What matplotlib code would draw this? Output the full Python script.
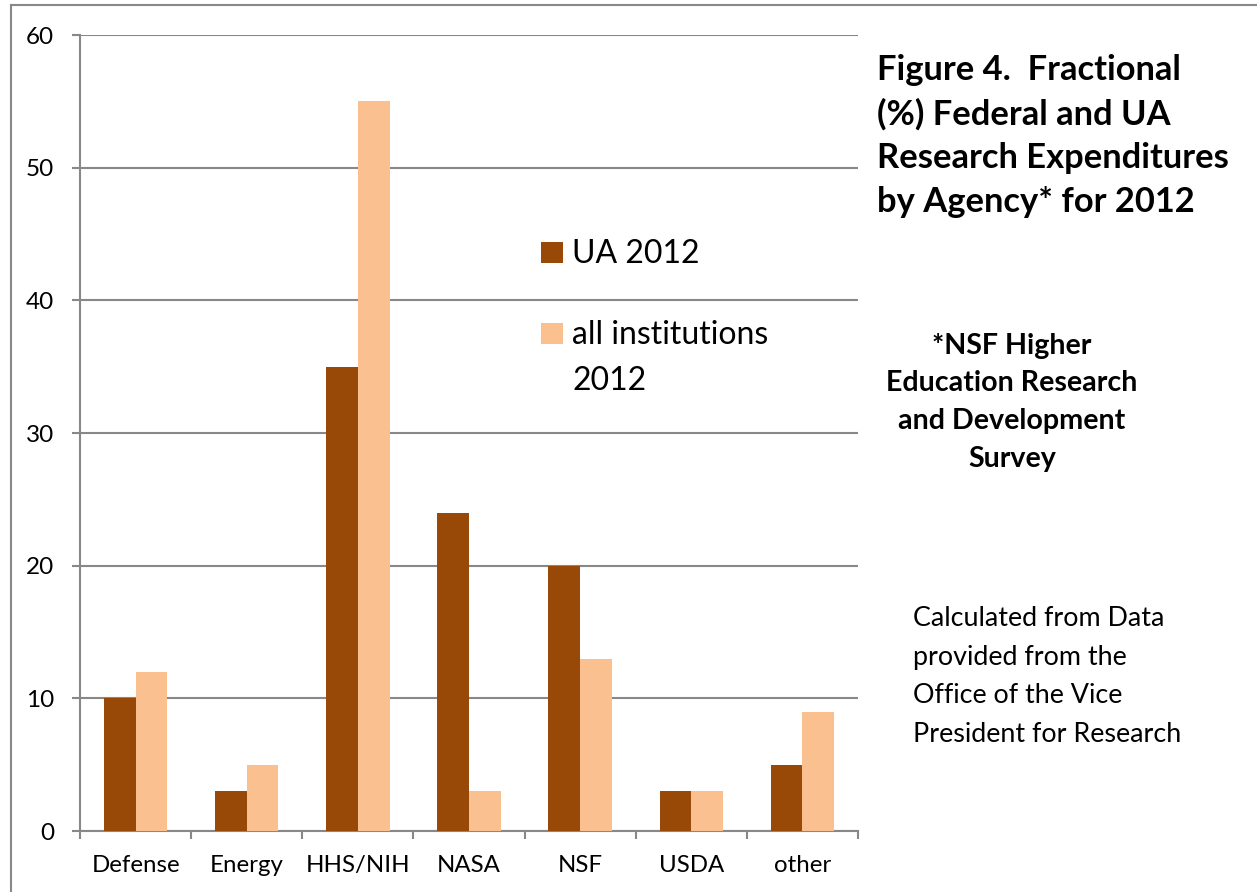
import matplotlib
matplotlib.use("Agg")
import matplotlib.pyplot as plt
from matplotlib.lines import Line2D
from matplotlib.patches import Rectangle
import numpy as np

plt.rcParams["font.family"] = ["Lato", "DejaVu Sans"]

agencies = ["Defense", "Energy", "HHS/NIH", "NASA", "NSF", "USDA", "other"]
ua_2012 = [10, 3, 35, 24, 20, 3, 5]
all_inst_2012 = [12, 5, 55, 3, 13, 3, 9]
series_labels = ["UA 2012", "all institutions\n2012"]
yticks = [0, 10, 20, 30, 40, 50, 60]

DARK = "#984807"
LIGHT = "#FAC090"
GRID = "#888888"

W, H = 1257, 892
fig = plt.figure(figsize=(W / 100, H / 100), dpi=100)


def fx(px):
    return px / W


def fy(py):
    return 1 - py / H


ax = fig.add_axes([fx(80), fy(831), fx(858) - fx(80), fy(35) - fy(831)])

x = np.arange(len(agencies))
bw = 0.285
b1 = ax.bar(x - bw / 2, ua_2012, bw, color=DARK, zorder=3)
b2 = ax.bar(x + bw / 2, all_inst_2012, bw, color=LIGHT, zorder=3)

ax.set_xlim(-0.5, len(agencies) - 0.5)
ax.set_ylim(0, 60)
ax.set_yticks(yticks)
ax.yaxis.grid(True, color=GRID, lw=1.5)
ax.set_axisbelow(True)
for s in ["top", "right"]:
    ax.spines[s].set_visible(False)
for s in ["left", "bottom"]:
    ax.spines[s].set_color(GRID)
    ax.spines[s].set_linewidth(1.5)
ax.set_xticks(x)
ax.set_xticklabels(agencies)
ax.set_xticks(np.arange(len(agencies) + 1) - 0.5, minor=True)
ax.tick_params(axis="x", which="major", length=0, labelsize=17.3, pad=17.5)
ax.tick_params(axis="x", which="minor", length=5.8, width=1.5, color=GRID, direction="out")
ax.tick_params(axis="y", length=5.8, width=1.5, color=GRID, labelsize=17.5, pad=13)

# legend, drawn by hand so the swatch sits beside the first line of a wrapped label
# (va="baseline" on multi-line text pins the last line, hence the separate baselines)
for bars, top, base, lab in [(b1, 242, 263, series_labels[0]), (b2, 323, 390, series_labels[1])]:
    fig.add_artist(Rectangle((fx(541), fy(top + 21)), fx(22), fy(top) - fy(top + 21),
                             transform=fig.transFigure, facecolor=bars.patches[0].get_facecolor(),
                             edgecolor="none"))
    fig.text(fx(572), fy(base), lab, ha="left", va="baseline", fontsize=23, linespacing=1.67)

fig.text(fx(877), fy(212), "Figure 4.  Fractional\n(%) Federal and UA\nResearch Expenditures\nby Agency* for 2012",
         ha="left", va="baseline", fontsize=24.8, fontweight="bold", linespacing=1.45)
fig.text(fx(1012), fy(467), "*NSF Higher\nEducation Research\nand Development\nSurvey",
         ha="center", va="baseline", fontsize=20.6, fontweight="bold", linespacing=1.56)
fig.text(fx(913), fy(742), "Calculated from Data\nprovided from the\nOffice of the Vice\nPresident for Research",
         ha="left", va="baseline", fontsize=19.4, linespacing=1.68)

# outer frame of the embedded chart
fig.add_artist(Line2D([fx(11), 1], [fy(5), fy(5)], color=GRID, lw=1.5))
fig.add_artist(Line2D([fx(11), fx(11)], [fy(5), 0], color=GRID, lw=1.5))

fig.savefig("out.png", dpi=100, facecolor="white")
